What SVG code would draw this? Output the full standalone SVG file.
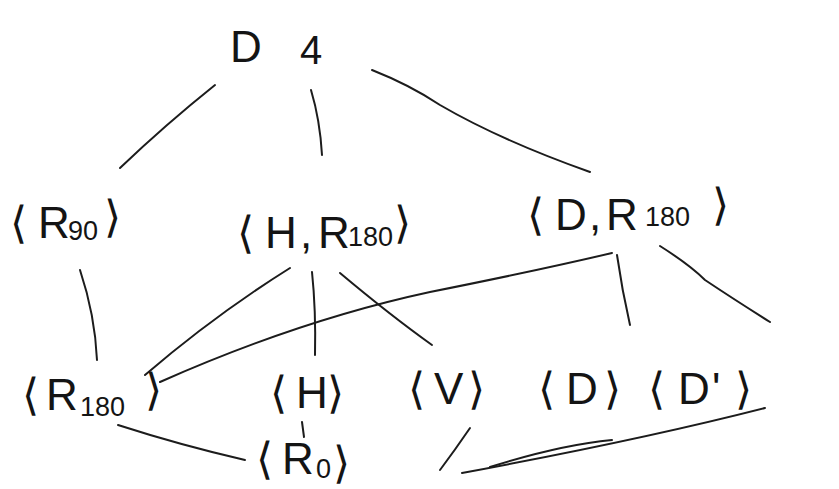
<svg xmlns="http://www.w3.org/2000/svg" width="839" height="489" viewBox="0 0 839 489">
<style>
.lbl{font-family:"Liberation Sans","DejaVu Sans",sans-serif;font-size:44px;fill:#141414}
.br{font-family:"DejaVu Sans",sans-serif;font-weight:300}
.sub{font-size:27px}
.edge{stroke:#1c1c1c;stroke-width:2;fill:none;stroke-linecap:round}
</style>
<rect width="839" height="489" fill="#ffffff"/>
<g id="connectors">
<path class="edge" d="M215,85 Q165,125 120,168"/>
<path class="edge" d="M311,90 Q320,120 322,155"/>
<path class="edge" d="M372,70 Q410,85 440,105 Q500,140 590,172"/>
<path class="edge" d="M80,270 Q95,315 97,360"/>
<path class="edge" d="M145,375 Q215,315 290,268"/>
<path class="edge" d="M160,382 Q300,320 430,292 Q540,270 612,253"/>
<path class="edge" d="M312,272 Q316,310 315,355"/>
<path class="edge" d="M340,273 Q390,315 432,345"/>
<path class="edge" d="M617,255 Q622,290 630,325"/>
<path class="edge" d="M660,246 Q690,265 705,280 Q735,300 770,322"/>
<path class="edge" d="M118,425 Q180,445 245,460"/>
<path class="edge" d="M302,422 L304,437"/>
<path class="edge" d="M470,428 Q455,450 440,470"/>
<path class="edge" d="M612,440 Q560,445 490,467"/>
<path class="edge" d="M765,408 Q640,440 462,473"/>
</g>
<g id="D4"><text class="lbl" x="230" y="62" font-size="60">D<tspan x="300" y="64" font-size="40">4</tspan></text></g>
<g id="R90"><text class="lbl" y="238"><tspan class="br" x="10">⟨</tspan><tspan x="38">R</tspan><tspan class="sub" x="68" y="240">90</tspan><tspan class="br" x="104" y="232">⟩</tspan></text></g>
<g id="HR180"><text class="lbl" y="248"><tspan class="br" x="237">⟨</tspan><tspan x="265">H</tspan><tspan x="300">,</tspan><tspan x="318">R</tspan><tspan class="sub" x="348" y="246">180</tspan><tspan class="br" x="394" y="238">⟩</tspan></text></g>
<g id="DR180"><text class="lbl" y="230"><tspan class="br" x="527">⟨</tspan><tspan x="555">D</tspan><tspan x="589">,</tspan><tspan x="606">R</tspan><tspan class="sub" x="645" y="226">180</tspan><tspan class="br" x="712" y="220">⟩</tspan></text></g>
<g id="R180"><text class="lbl" y="410"><tspan class="br" x="22">⟨</tspan><tspan x="46">R</tspan><tspan class="sub" x="80" y="416">180</tspan><tspan class="br" x="145" y="405">⟩</tspan></text></g>
<g id="H"><text class="lbl" y="408"><tspan class="br" x="270">⟨</tspan><tspan x="296">H</tspan><tspan class="br" x="327">⟩</tspan></text></g>
<g id="V"><text class="lbl" y="404"><tspan class="br" x="408">⟨</tspan><tspan x="434">V</tspan><tspan class="br" x="468">⟩</tspan></text></g>
<g id="D"><text class="lbl" y="404"><tspan class="br" x="538">⟨</tspan><tspan x="566">D</tspan><tspan class="br" x="604">⟩</tspan></text></g>
<g id="Dp"><text class="lbl" y="404"><tspan class="br" x="648">⟨</tspan><tspan x="678">D</tspan><tspan x="712">'</tspan><tspan class="br" x="735">⟩</tspan></text></g>
<g id="R0"><text class="lbl" y="474"><tspan class="br" x="256">⟨</tspan><tspan x="282">R</tspan><tspan class="sub" x="316" y="478">0</tspan><tspan class="br" x="333">⟩</tspan></text></g>
</svg>
